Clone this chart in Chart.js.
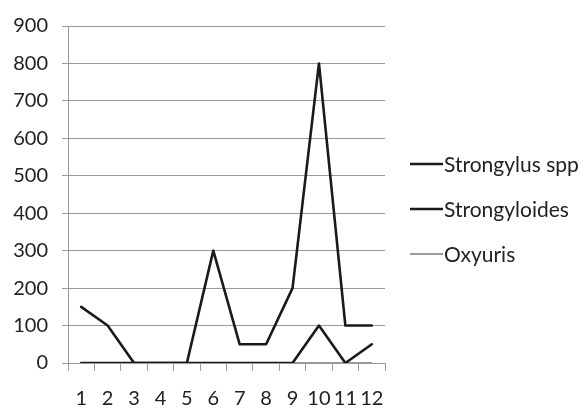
<!DOCTYPE html>
<html>
<head>
<meta charset="utf-8">
<script src="https://cdn.jsdelivr.net/npm/chart.js@4/dist/chart.umd.min.js"></script>
<style>
  html, body { margin: 0; padding: 0; background: #fff; }
  #wrap { width: 585px; height: 410px; }
</style>
</head>
<body>
<div id="wrap"><canvas id="c" width="585" height="410"></canvas></div>
<script>
// Monthly counts per parasite group
const months = ['1', '2', '3', '4', '5', '6', '7', '8', '9', '10', '11', '12'];
const strongylusSpp = [150, 100, 0, 0, 0, 300, 50, 50, 200, 800, 100, 100];
const strongyloides = [0, 0, 0, 0, 0, 0, 0, 0, 0, 100, 0, 50];
const oxyuris = [0, 0, 0, 0, 0, 0, 0, 0, 0, 0, 0, 0];
const seriesNames = ['Strongylus spp', 'Strongyloides', 'Oxyuris'];

const FAMILY = 'Lato, "Liberation Sans", sans-serif';
const TICK_FONT = { family: FAMILY, size: 20 };
const LEGEND_SIZE = 21;
const TEXT = '#222';
const GRID = '#9a9a9a';

// Simple line legend drawn to the right of the plot
const sideLegend = {
  id: 'sideLegend',
  afterDraw(chart) {
    const ctx = chart.ctx;
    const x0 = 410, x1 = 443;
    const rows = [164, 209, 254];
    ctx.save();
    ctx.font = LEGEND_SIZE + 'px ' + FAMILY;
    ctx.textBaseline = 'middle';
    ctx.textAlign = 'left';
    chart.data.datasets.forEach((ds, i) => {
      const y = rows[i];
      ctx.strokeStyle = ds.borderColor;
      ctx.lineWidth = ds.borderWidth;
      ctx.beginPath();
      ctx.moveTo(x0, y);
      ctx.lineTo(x1, y);
      ctx.stroke();
      ctx.fillStyle = TEXT;
      ctx.fillText(ds.label, x1 + 1, y + 1);
    });
    ctx.restore();
  }
};

new Chart(document.getElementById('c'), {
  type: 'line',
  data: {
    labels: months,
    datasets: [
      { label: seriesNames[0], data: strongylusSpp, borderColor: '#1a1a1a', borderWidth: 2.6 },
      { label: seriesNames[1], data: strongyloides, borderColor: '#1a1a1a', borderWidth: 2.6 },
      { label: seriesNames[2], data: oxyuris, borderColor: '#7a7a7a', borderWidth: 1.5, order: 1 }
    ]
  },
  options: {
    responsive: false,
    animation: false,
    layout: { padding: { left: 0, right: 200, top: 22, bottom: 0 } },
    elements: {
      point: { radius: 0, hoverRadius: 0 },
      line: { tension: 0, fill: false, borderCapStyle: 'round', borderJoinStyle: 'round' }
    },
    plugins: {
      legend: { display: false },
      tooltip: { enabled: false }
    },
    scales: {
      x: {
        offset: true,
        grid: { offset: true, drawOnChartArea: false, tickLength: 8, color: GRID, lineWidth: 1 },
        border: { color: GRID, width: 1 },
        ticks: { font: TICK_FONT, color: TEXT, padding: 16, maxRotation: 0, autoSkip: false },
        afterFit: (s) => { s.height = 47; }
      },
      y: {
        min: 0,
        max: 900,
        ticks: { stepSize: 100, font: TICK_FONT, color: TEXT, padding: 14 },
        grid: { color: GRID, lineWidth: 1, tickLength: 6 },
        border: { color: GRID, width: 1 },
        afterFit: (s) => { s.width = 68; }
      }
    }
  },
  plugins: [sideLegend]
});
</script>
</body>
</html>
